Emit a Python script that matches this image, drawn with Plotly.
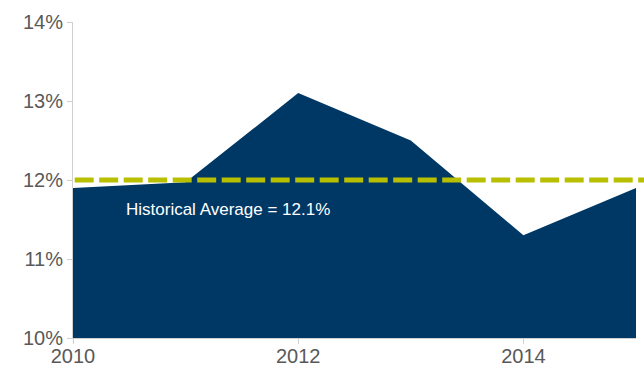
import plotly.graph_objects as go

years = [2010, 2011, 2012, 2013, 2014, 2015]
values = [11.9, 11.97, 13.1, 12.5, 11.3, 11.9]
avg_line = 12.0
avg_label = "Historical Average = 12.1%"
y_ticks = [10, 11, 12, 13, 14]
x_ticks = [2010, 2012, 2014]

fig = go.Figure()
fig.add_trace(go.Scatter(
    x=years, y=values, mode="lines", fill="tozeroy",
    fillcolor="#003865", line=dict(color="#003865", width=0),
    hoverinfo="skip", showlegend=False,
))

fig.add_shape(type="line", xref="paper", yref="y", x0=0.003, x1=1.02,
              y0=avg_line, y1=avg_line,
              line=dict(color="#b7bf00", width=5, dash="19px,5.5px"))

fig.add_annotation(x=2010.45, y=11.63, xref="x", yref="y", text=avg_label,
                   showarrow=False, xanchor="left", yanchor="middle",
                   font=dict(family="Liberation Sans, Arial", size=17, color="white"))

fig.update_layout(
    width=644, height=370,
    margin=dict(l=73, r=8, t=22, b=32),
    plot_bgcolor="white", paper_bgcolor="white",
    font=dict(family="Liberation Sans, Arial", size=20, color="#595959"),
    xaxis=dict(range=[2010, 2015], tickvals=x_ticks, showgrid=False,
               showline=True, linecolor="#d0d0d0", linewidth=1, automargin=False,
               ticks="outside", ticklen=5, tickcolor="#d0d0d0", zeroline=False,
               ticklabelstandoff=-5),
    yaxis=dict(range=[10, 14], tickvals=y_ticks,
               ticktext=[f"{v}%" for v in y_ticks], showgrid=False, automargin=False,
               showline=True, linecolor="#d0d0d0", linewidth=1,
               ticks="outside", ticklen=5, tickcolor="#d0d0d0", zeroline=False),
)

fig.write_html("out.html")
